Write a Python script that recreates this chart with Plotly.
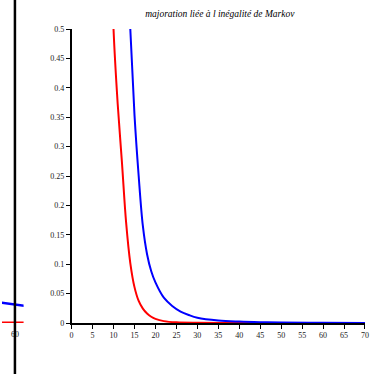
import plotly.graph_objects as go

# Main chart data
x_red = [9, 10, 11, 12, 13, 14, 15, 16, 17, 18, 19, 20, 22, 25, 30, 40, 50, 60, 70]
y_red = [0.75, 0.5, 0.372, 0.274, 0.171, 0.102, 0.061, 0.0375, 0.0244, 0.0161, 0.0106, 0.0071,
         0.0032, 0.0011, 0.0003, 0.0001, 0.0, 0.0, 0.0]

x_blue = [13, 14, 15, 16, 17, 18, 19, 20, 22, 24, 26, 28, 30, 35, 40, 45, 50, 60, 70]
y_blue = [0.7, 0.5, 0.354, 0.25, 0.165, 0.117, 0.088, 0.069, 0.043, 0.029, 0.0195, 0.0135,
          0.009, 0.0043, 0.0024, 0.0014, 0.0009, 0.0004, 0.0002]

x_ticks = list(range(0, 75, 5))
y_ticks = [0, 0.05, 0.1, 0.15, 0.2, 0.25, 0.3, 0.35, 0.4, 0.45, 0.5]
y_ticktext = ["0", "0.05", "0.1", "0.15", "0.2", "0.25", "0.3", "0.35", "0.4", "0.45", "0.5"]

# Neighbouring (cropped) panel on the left
left_x = [55, 65]
left_blue = [0.0364, 0.0266]
left_red = [0.0, 0.0]
left_vline = 60
left_ticks = [60]

title = "majoration liée à l inégalité de Markov"

tickfont = dict(family="Liberation Sans Narrow", size=8, color="#222222")

fig = go.Figure()
fig.add_trace(go.Scatter(x=x_red, y=y_red, mode="lines", line=dict(color="#ff0000", width=2, shape="spline"),
                         showlegend=False))
fig.add_trace(go.Scatter(x=x_blue, y=y_blue, mode="lines", line=dict(color="#0000ff", width=2, shape="spline"),
                         showlegend=False))
fig.add_trace(go.Scatter(x=left_x, y=left_blue, mode="lines", line=dict(color="#0000ff", width=2.5),
                         xaxis="x2", yaxis="y", showlegend=False))
fig.add_trace(go.Scatter(x=left_x, y=left_red, mode="lines", line=dict(color="#ff0000", width=3),
                         xaxis="x2", yaxis="y", showlegend=False))

fig.add_shape(type="line", xref="x2", yref="paper", x0=left_vline, x1=left_vline, y0=-0.3, y1=1.3,
              line=dict(color="black", width=2.5))

fig.update_layout(
    width=380, height=374,
    margin=dict(l=0, r=15, t=29, b=51),
    paper_bgcolor="white", plot_bgcolor="white",
    title=dict(text=title, x=0.6, xref="paper", xanchor="center", y=1 - 14 / 374, yref="container",
               yanchor="middle",
               font=dict(family="Liberation Serif", size=9.5, color="black", style="italic")),
    xaxis=dict(domain=[70 / 365, 1], range=[0, 70], tickvals=x_ticks, ticktext=[str(v) for v in x_ticks],
               showgrid=False, zeroline=False, showline=True, linecolor="black", linewidth=1.5,
               ticks="outside", ticklen=4, tickwidth=1, tickcolor="black", tickfont=tickfont),
    yaxis=dict(range=[0, 0.5], tickvals=y_ticks, ticktext=y_ticktext,
               showgrid=False, zeroline=False, showline=True, linecolor="black", linewidth=1.5,
               ticks="outside", ticklen=4, tickwidth=1, tickcolor="black", tickfont=tickfont),
    xaxis2=dict(domain=[0, 21.7 / 365], range=[56.885, 62.085], anchor="y", tickvals=left_ticks,
                ticktext=[str(v) for v in left_ticks],
                showgrid=False, zeroline=False, showline=False,
                ticks="outside", ticklen=3, tickwidth=1, tickcolor="black", tickfont=tickfont),
)

fig.write_html("out.html", config={"displayModeBar": False},
               post_script="document.body.style.margin='0';document.body.style.overflow='hidden';")
